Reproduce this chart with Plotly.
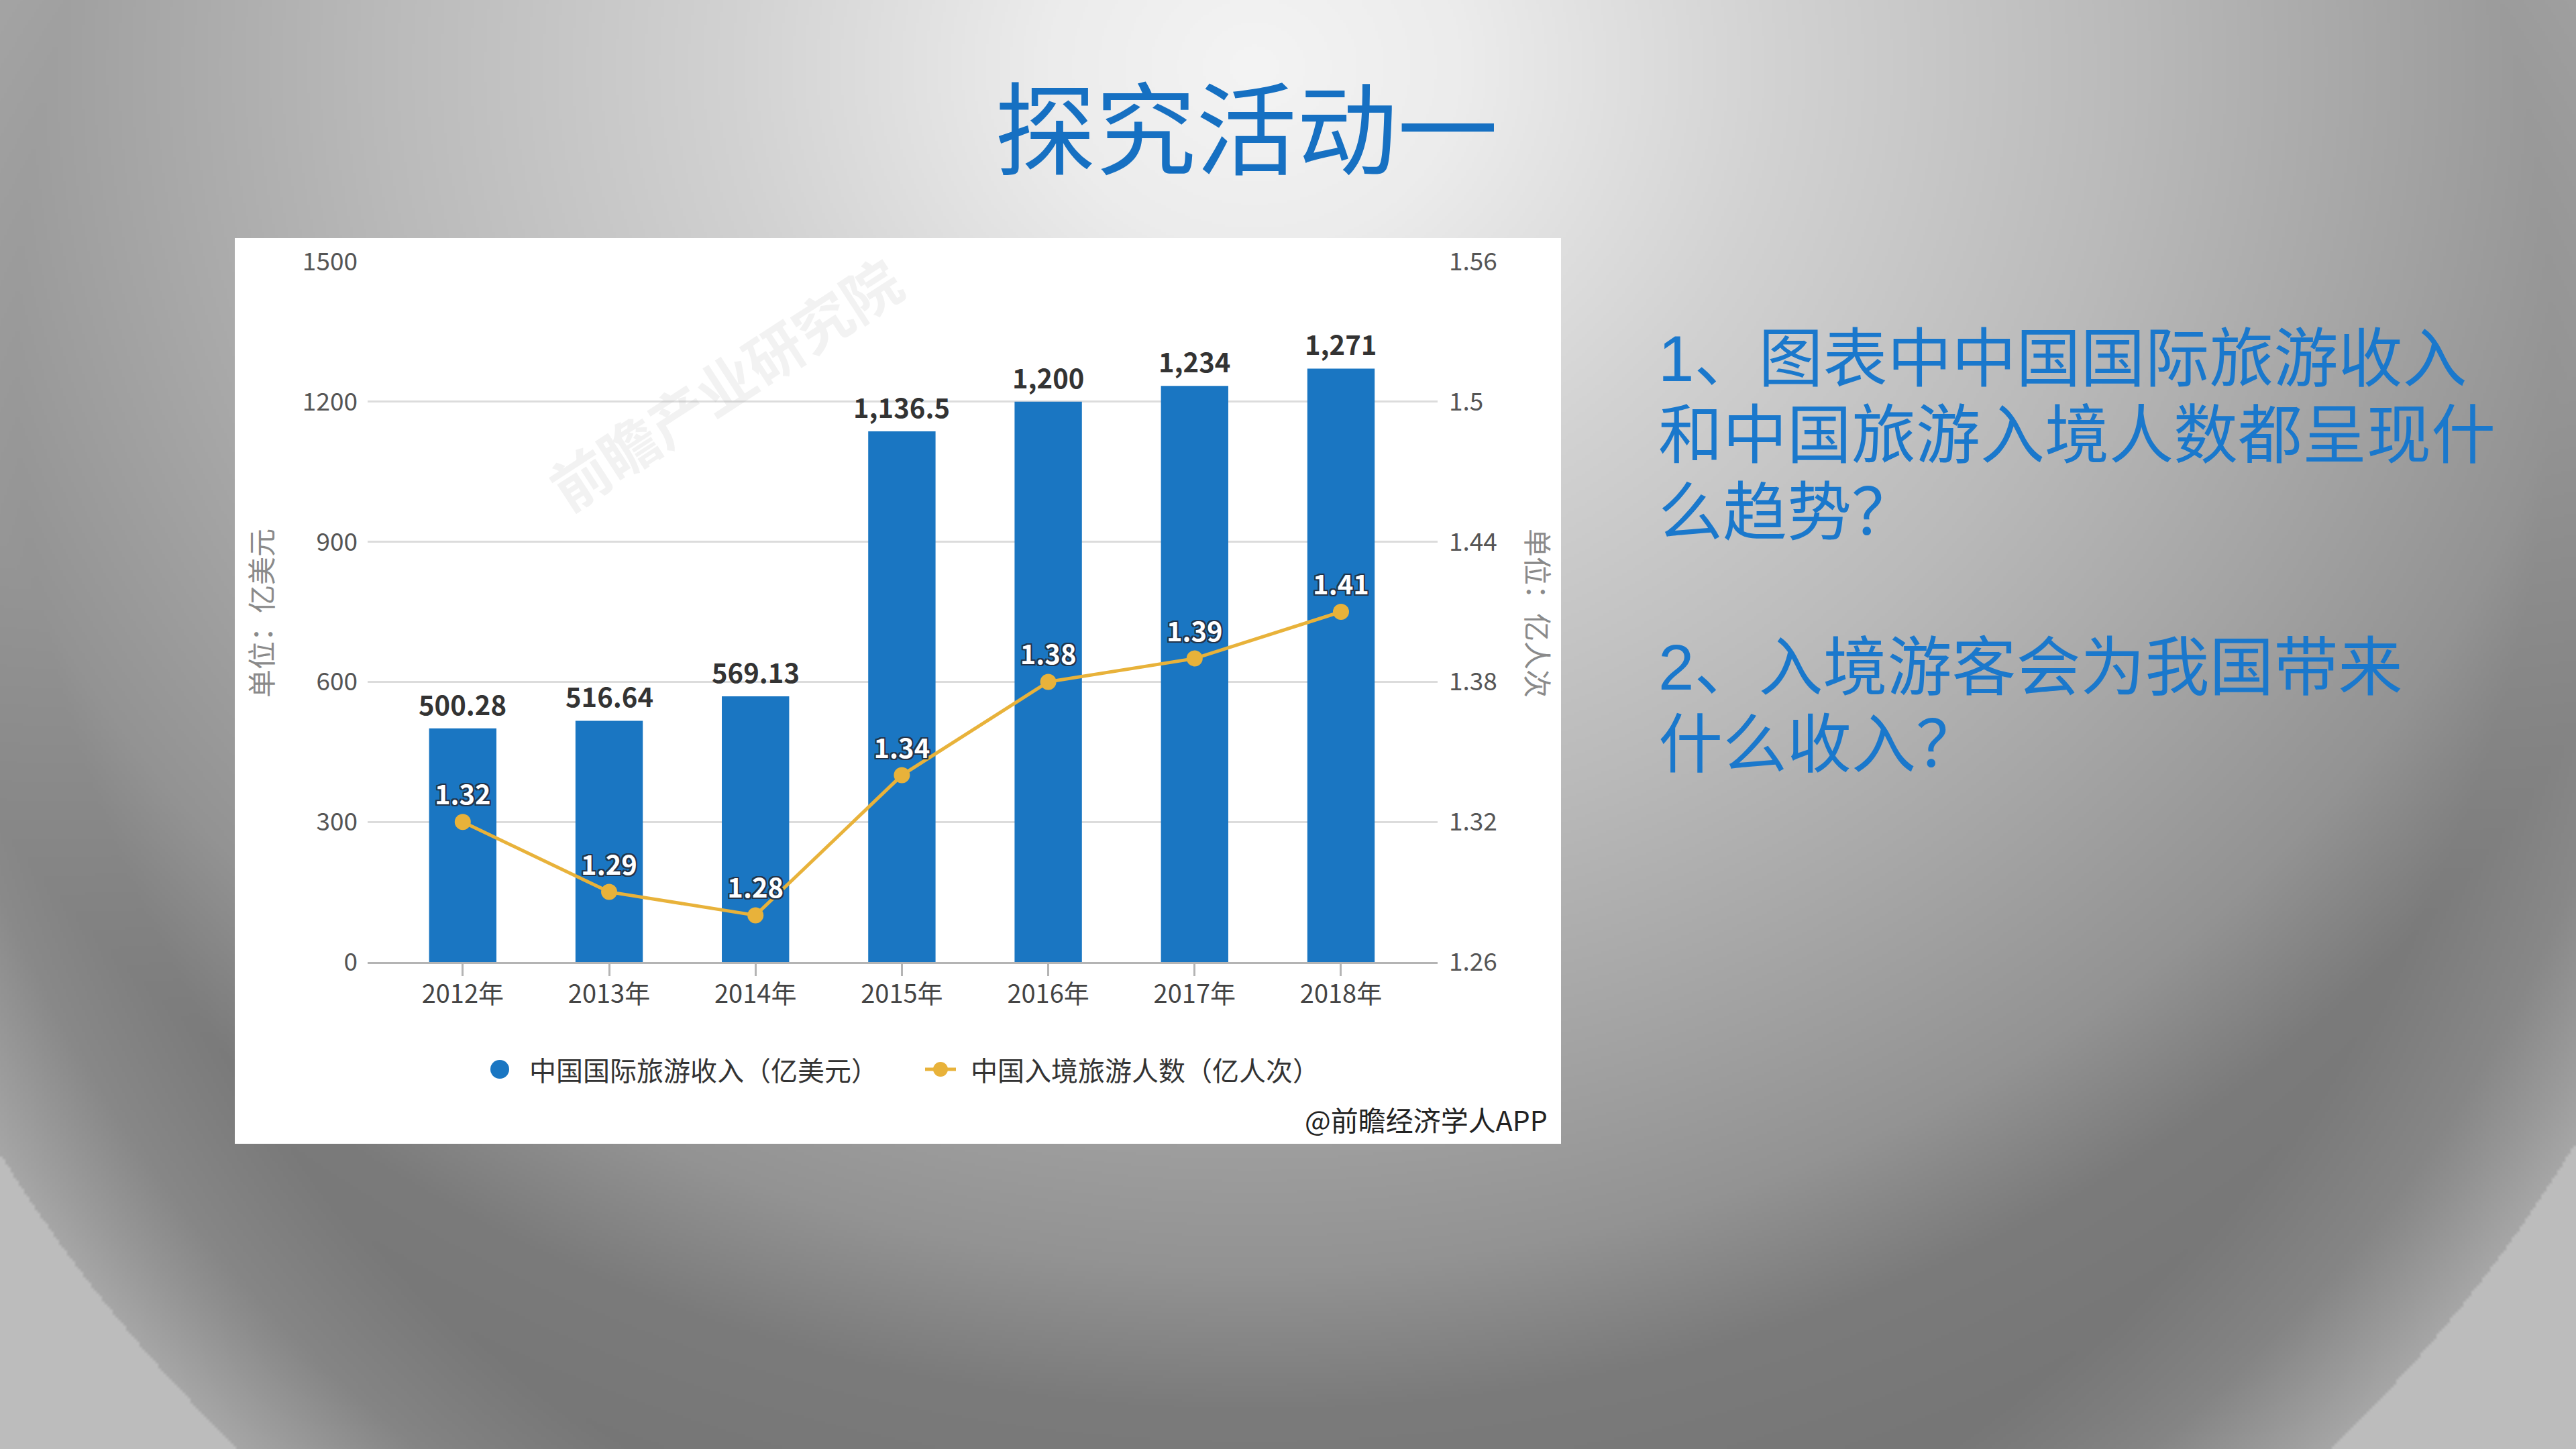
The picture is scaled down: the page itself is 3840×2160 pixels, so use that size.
import base64
import struct
import zlib

import numpy as np
import plotly.graph_objects as go

# ---------------- data ----------------
categories = ["2012年", "2013年", "2014年", "2015年", "2016年", "2017年", "2018年"]
income = [500.28, 516.64, 569.13, 1136.5, 1200, 1234, 1271]
income_labels = ["500.28", "516.64", "569.13", "1,136.5", "1,200", "1,234", "1,271"]
visitors = [1.32, 1.29, 1.28, 1.34, 1.38, 1.39, 1.41]
visitor_labels = ["1.32", "1.29", "1.28", "1.34", "1.38", "1.39", "1.41"]
left_ticks = [0, 300, 600, 900, 1200, 1500]
left_ticktext = ["0", "300", "600", "900", "1200", "1500"]
right_ticks = [1.26, 1.32, 1.38, 1.44, 1.50, 1.56]
right_ticktext = ["1.26", "1.32", "1.38", "1.44", "1.5", "1.56"]
series_names = ["中国国际旅游收入（亿美元）", "中国入境旅游人数（亿人次）"]
left_unit = "单位：亿美元"
right_unit = "单位：亿人次"
title_text = "探究活动一"
question_lines = [
    "1、图表中中国国际旅游收入",
    "和中国旅游入境人数都呈现什",
    "么趋势？",
    "",
    "2、入境游客会为我国带来",
    "什么收入？",
]
source_text = "@前瞻经济学人APP"
watermark_text = "前瞻产业研究院"

# ---------------- style ----------------
W, H = 3840, 2160
FONT = "Noto Sans CJK SC, Noto Sans, sans-serif"
Q_FONT = "Liberation Sans, Noto Sans CJK SC, sans-serif"
BLUE = "#1a76c2"
GOLD = "#e8b23a"
TEXT_BLUE = "#1a78cc"


def px_x(x):
    return x / W


def px_y(y):
    return 1 - y / H


# ---------------- background (slide gradient) ----------------
BW, BH = 960, 540
ys, xs = np.mgrid[0:BH, 0:BW]
X = (xs + 0.5) * W / BW
Y = (ys + 0.5) * H / BH
d = np.sqrt(((X - 1870) / 2600) ** 2 + ((Y - 100) / 2300) ** 2)
base = np.interp(d, [0, 0.12, 0.3, 0.5, 0.63, 0.78, 0.87, 1.0, 1.3],
                 [244, 236, 210, 186, 168, 147, 123, 117, 117])
r = np.sqrt((X - 1915) ** 2 + (Y - 538) ** 2) / 2250
ring = np.interp(r, [0, 0.84, 0.92, 1.0], [0, 0, 16, 50])
val = base + ring
val = np.where(r > 1.0, 188, val)
val = np.clip(val, 0, 255).astype(np.uint8)
raw = b"".join(b"\x00" + row.tobytes() for row in val)


def _chunk(tag, data):
    return (struct.pack(">I", len(data)) + tag + data
            + struct.pack(">I", zlib.crc32(tag + data) & 0xFFFFFFFF))


png = (b"\x89PNG\r\n\x1a\n"
       + _chunk(b"IHDR", struct.pack(">IIBBBBB", BW, BH, 8, 0, 0, 0, 0))
       + _chunk(b"IDAT", zlib.compress(raw, 9))
       + _chunk(b"IEND", b""))
bg_uri = "data:image/png;base64," + base64.b64encode(png).decode()

# ---------------- figure ----------------
fig = go.Figure()

fig.add_trace(go.Bar(
    x=categories, y=income, name=series_names[0],
    marker=dict(color=BLUE, line=dict(width=0)),
    width=0.46, showlegend=False, hoverinfo="x+y",
))

outline = "#22344a"
shadow = ", ".join(f"{a}px {b}px 0 {outline}" for a in (-2, 0, 2) for b in (-2, 0, 2) if (a, b) != (0, 0))
fig.add_trace(go.Scatter(
    x=categories, y=visitors, name=series_names[1], yaxis="y2",
    mode="lines+markers+text",
    line=dict(color=GOLD, width=5),
    marker=dict(color=GOLD, size=24, line=dict(width=0)),
    text=visitor_labels, textposition="top center",
    textfont=dict(family=FONT, size=40, color="white", weight="bold", shadow=shadow),
    cliponaxis=False, showlegend=False,
))

annotations = []
# bar value labels
for c, v, t in zip(categories, income, income_labels):
    annotations.append(dict(
        x=c, y=v, xref="x", yref="y", text=f"<b>{t}</b>", showarrow=False,
        yanchor="middle", yshift=37,
        font=dict(family=FONT, size=40, color="#333333"),
    ))

# axis unit titles
annotations.append(dict(
    x=px_x(387), y=px_y(914), xref="paper", yref="paper", text=left_unit,
    showarrow=False, textangle=-90, xanchor="center", yanchor="middle",
    font=dict(family=FONT, size=42, color="#8a8a8a"),
))
annotations.append(dict(
    x=px_x(2295), y=px_y(914), xref="paper", yref="paper", text=right_unit,
    showarrow=False, textangle=90, xanchor="center", yanchor="middle",
    font=dict(family=FONT, size=42, color="#8a8a8a"),
))

# manual legend
leg_y = px_y(1594)
annotations.append(dict(
    x=px_x(787), y=leg_y, xref="paper", yref="paper", text=series_names[0],
    showarrow=False, xanchor="left", yanchor="middle",
    font=dict(family=FONT, size=40, color="#333333"),
))
annotations.append(dict(
    x=px_x(1445), y=leg_y, xref="paper", yref="paper", text=series_names[1],
    showarrow=False, xanchor="left", yanchor="middle",
    font=dict(family=FONT, size=40, color="#333333"),
))

# source
annotations.append(dict(
    x=px_x(2309), y=px_y(1668), xref="paper", yref="paper", text=source_text,
    showarrow=False, xanchor="right", yanchor="middle",
    font=dict(family=FONT, size=41, color="#222222"),
))

# watermark
annotations.append(dict(
    x=px_x(1080), y=px_y(570), xref="paper", yref="paper", text=watermark_text,
    showarrow=False, textangle=-33, xanchor="center", yanchor="middle",
    font=dict(family=FONT, size=86, color="rgba(170,170,170,0.15)", weight="bold"),
))

# slide title
annotations.append(dict(
    x=px_x(1858), y=px_y(184), xref="paper", yref="paper", text=title_text,
    showarrow=False, xanchor="center", yanchor="middle",
    font=dict(family=FONT, size=150, color="#1670c2"),
))

# question text, one annotation per line
line_y = [534, 649, 763, 878, 994, 1109]
for txt, yy in zip(question_lines, line_y):
    if not txt:
        continue
    annotations.append(dict(
        x=px_x(2470), y=px_y(yy), xref="paper", yref="paper", text=txt,
        showarrow=False, xanchor="left", yanchor="middle",
        font=dict(family=Q_FONT, size=96, color=TEXT_BLUE),
    ))

shapes = [
    # white chart card
    dict(type="rect", xref="paper", yref="paper",
         x0=px_x(350), x1=px_x(2327), y0=px_y(1705), y1=px_y(355),
         fillcolor="white", line=dict(width=0), layer="below"),
    # legend symbol 1 (circle)
    dict(type="circle", xref="paper", yref="paper",
         x0=px_x(745 - 14), x1=px_x(745 + 14), y0=px_y(1594 + 14), y1=px_y(1594 - 14),
         fillcolor=BLUE, line=dict(width=0), layer="above"),
    # legend symbol 2 (line + marker)
    dict(type="line", xref="paper", yref="paper",
         x0=px_x(1379), x1=px_x(1425), y0=leg_y, y1=leg_y,
         line=dict(color=GOLD, width=5), layer="above"),
    dict(type="circle", xref="paper", yref="paper",
         x0=px_x(1402 - 11), x1=px_x(1402 + 11), y0=px_y(1594 + 11), y1=px_y(1594 - 11),
         fillcolor=GOLD, line=dict(width=0), layer="above"),
]

fig.update_layout(
    width=W, height=H,
    margin=dict(l=0, r=0, t=0, b=0, pad=0, autoexpand=False),
    paper_bgcolor="#8c8c8c",
    plot_bgcolor="rgba(0,0,0,0)",
    font=dict(family=FONT),
    showlegend=False,
    images=[dict(source=bg_uri, xref="paper", yref="paper", x=0, y=1,
                 sizex=1, sizey=1, xanchor="left", yanchor="top",
                 sizing="stretch", layer="below")],
    shapes=shapes,
    annotations=annotations,
    xaxis=dict(
        domain=[px_x(548), px_x(2143)],
        type="category",
        range=[-0.65, 6.66],
        showgrid=False, zeroline=False,
        showline=True, linecolor="#b4b4b4", linewidth=3,
        ticks="outside", ticklen=18, tickwidth=3, tickcolor="#b4b4b4",
        tickfont=dict(family=FONT, size=38, color="#444444"),
        ticklabelstandoff=-6,
        automargin=False,
        fixedrange=True,
    ),
    yaxis=dict(
        domain=[px_y(1434), px_y(390)],
        range=[0, 1500],
        tickvals=left_ticks, ticktext=left_ticktext,
        showgrid=True, gridcolor="#dcdcdc", gridwidth=3,
        zeroline=False, showline=False,
        ticks="", tickfont=dict(family=FONT, size=37, color="#555555"),
        ticklabelstandoff=14,
        automargin=False,
        fixedrange=True,
    ),
    yaxis2=dict(
        overlaying="y", side="right",
        range=[1.26, 1.56],
        tickvals=right_ticks, ticktext=right_ticktext,
        showgrid=False, zeroline=False, showline=False,
        ticks="", tickfont=dict(family=FONT, size=37, color="#555555"),
        ticklabelstandoff=16,
        automargin=False,
        fixedrange=True,
    ),
)

fig.write_html("out.html")
